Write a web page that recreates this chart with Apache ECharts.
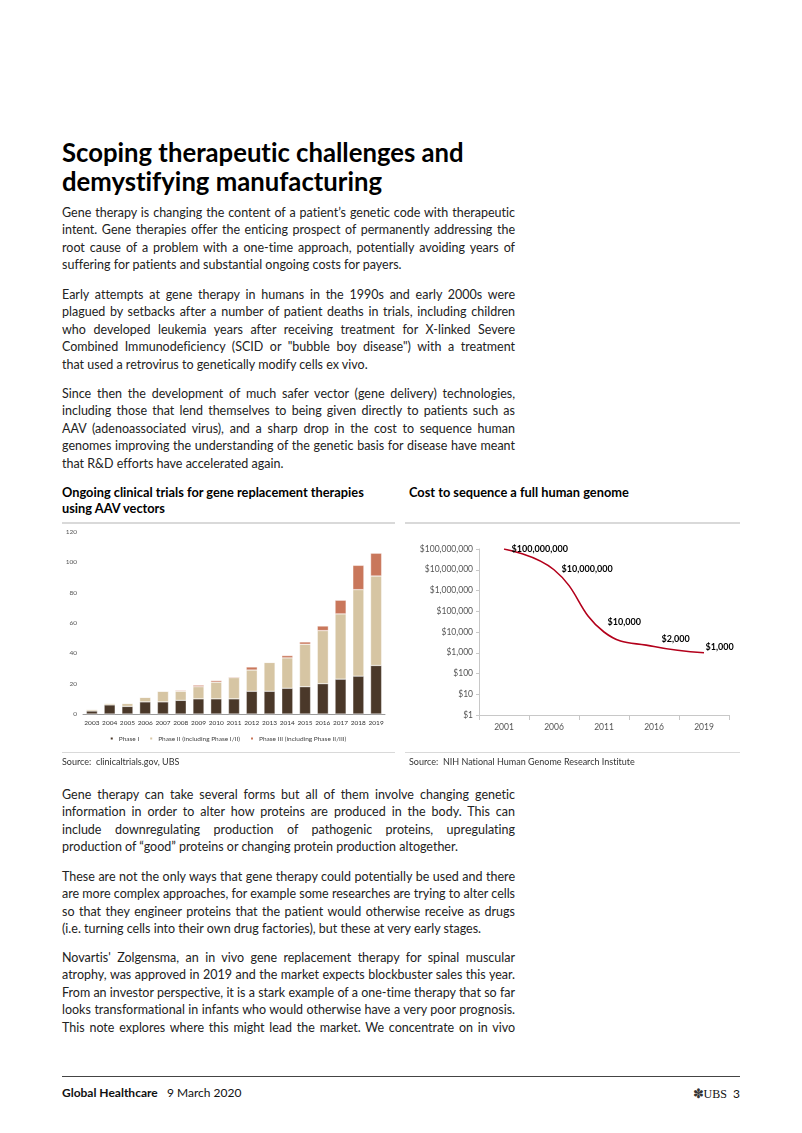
<!DOCTYPE html>
<html>
<head>
<meta charset="utf-8">
<script src="https://cdn.jsdelivr.net/npm/echarts@6/dist/echarts.min.js"></script>
<style>
  html, body { margin:0; padding:0; background:#fff; }
  body { width:802px; height:1133px; position:relative; overflow:hidden; font-family: Lato, "Open Sans", sans-serif; color:#1a1a1a; font-variant-ligatures: none; }
  .title { position:absolute; left:62px; top:138px; font-size:25.7px; line-height:29px; font-weight:700; color:#000; white-space:nowrap; }
  .para { position:absolute; left:62px; width:453px; font-size:12.5px; line-height:17.4px; color:#222; }
  .ln { white-space:nowrap; text-align:justify; text-align-last:justify; width:453px; }
  .ln.last { text-align:left; text-align-last:left; }
  .ctitle { position:absolute; font-size:12.8px; line-height:16px; font-weight:700; color:#000; white-space:nowrap; }
  .rule { position:absolute; background:#d9d9d9; }
  .src { position:absolute; font-size:9px; color:#333; white-space:nowrap; }
  .footer { position:absolute; top:1085px; font-size:12px; color:#111; white-space:nowrap; }
  #bar { position:absolute; left:55px; top:525px; width:345px; height:228px; }
  #line { position:absolute; left:400px; top:530px; width:345px; height:210px; }
</style>
</head>
<body>
<div class="title">Scoping therapeutic challenges and<br>demystifying manufacturing</div>

<div class="para" style="top:204px">
<div class="ln">Gene therapy is changing the content of a patient’s genetic code with therapeutic</div>
<div class="ln">intent. Gene therapies offer the enticing prospect of permanently addressing the</div>
<div class="ln">root cause of a problem with a one-time approach, potentially avoiding years of</div>
<div class="ln last">suffering for patients and substantial ongoing costs for payers.</div>
</div>

<div class="para" style="top:286px">
<div class="ln">Early attempts at gene therapy in humans in the 1990s and early 2000s were</div>
<div class="ln">plagued by setbacks after a number of patient deaths in trials, including children</div>
<div class="ln">who developed leukemia years after receiving treatment for X-linked Severe</div>
<div class="ln">Combined Immunodeficiency (SCID or "bubble boy disease") with a treatment</div>
<div class="ln last">that used a retrovirus to genetically modify cells ex vivo.</div>
</div>

<div class="para" style="top:385px">
<div class="ln">Since then the development of much safer vector (gene delivery) technologies,</div>
<div class="ln">including those that lend themselves to being given directly to patients such as</div>
<div class="ln">AAV (adenoassociated virus), and a sharp drop in the cost to sequence human</div>
<div class="ln">genomes improving the understanding of the genetic basis for disease have meant</div>
<div class="ln last">that R&amp;D efforts have accelerated again.</div>
</div>

<div class="ctitle" style="left:62px; top:484px">Ongoing clinical trials for gene replacement therapies<br>using AAV vectors</div>
<div class="ctitle" style="left:409px; top:484px">Cost to sequence a full human genome</div>
<div class="rule" style="left:62px; top:522px; width:333px; height:2px"></div>
<div class="rule" style="left:405px; top:522px; width:335px; height:2px"></div>

<div id="bar"></div>
<div id="line"></div>

<div class="rule" style="left:62px; top:752px; width:333px; height:1px"></div>
<div class="rule" style="left:405px; top:752px; width:335px; height:1px"></div>
<div class="src" style="left:62px; top:756px">Source:&nbsp; clinicaltrials.gov, UBS</div>
<div class="src" style="left:409px; top:756px">Source:&nbsp; NIH National Human Genome Research Institute</div>

<div class="para" style="top:786px">
<div class="ln">Gene therapy can take several forms but all of them involve changing genetic</div>
<div class="ln">information in order to alter how proteins are produced in the body. This can</div>
<div class="ln">include downregulating production of pathogenic proteins, upregulating</div>
<div class="ln last">production of “good” proteins or changing protein production altogether.</div>
</div>

<div class="para" style="top:868px">
<div class="ln">These are not the only ways that gene therapy could potentially be used and there</div>
<div class="ln">are more complex approaches, for example some researches are trying to alter cells</div>
<div class="ln">so that they engineer proteins that the patient would otherwise receive as drugs</div>
<div class="ln last">(i.e. turning cells into their own drug factories), but these at very early stages.</div>
</div>

<div class="para" style="top:949px">
<div class="ln">Novartis' Zolgensma, an in vivo gene replacement therapy for spinal muscular</div>
<div class="ln">atrophy, was approved in 2019 and the market expects blockbuster sales this year.</div>
<div class="ln">From an investor perspective, it is a stark example of a one-time therapy that so far</div>
<div class="ln">looks transformational in infants who would otherwise have a very poor prognosis.</div>
<div class="ln">This note explores where this might lead the market. We concentrate on in vivo</div>
</div>

<div style="position:absolute; left:62px; top:1076px; width:678px; height:1px; background:#444"></div>
<div class="footer" style="left:62px"><b>Global Healthcare</b>&nbsp;&nbsp; 9 March 2020</div>
<div class="footer" style="right:62px"><span style="font-size:13px; color:#333">✽</span><span style="font-family:'Liberation Serif', serif">UBS</span>&nbsp; 3</div>

<script>
// keep justified lines inside the column if the natural width is too large
(function () {
  var lines = document.querySelectorAll('.ln');
  var probe = document.createElement('span');
  probe.style.cssText = 'position:absolute;visibility:hidden;white-space:nowrap;';
  for (var i = 0; i < lines.length; i++) {
    var el = lines[i];
    probe.textContent = el.textContent;
    el.appendChild(probe);
    var w = probe.getBoundingClientRect().width;
    el.removeChild(probe);
    if (w > 452) {
      var n = el.textContent.length;
      el.style.letterSpacing = ((452 - w) / n).toFixed(3) + 'px';
    }
  }
})();

// ---------- Data: clinical trials ----------
var years = ['2003','2004','2005','2006','2007','2008','2009','2010','2011','2012','2013','2014','2015','2016','2017','2018','2019'];
var phase1 = [2, 6, 5, 8, 8, 9, 10, 10, 10, 15, 15, 17, 18, 20, 23, 25, 32];
var phase2 = [1, 1, 2, 3, 7, 6, 8, 11, 14, 14, 19, 20, 28, 35, 43, 57, 59];
var phase3 = [0, 0, 0, 0, 0, 0.5, 1, 1, 0.5, 2, 0, 1.5, 1.5, 3, 9, 16, 15];
var seriesNames = ['Phase I', 'Phase II (including Phase I/II)', 'Phase III (including Phase II/III)'];
var barTicks = [0, 20, 40, 60, 80, 100, 120];

// ---------- Data: genome cost ----------
var costYears = ['2001','2006','2011','2016','2019'];
var costValues = [100000000, 10000000, 10000, 2000, 1000];
var costLabels = ['$100,000,000', '$10,000,000', '$10,000', '$2,000', '$1,000'];

var FONT = 'Lato, "Open Sans", sans-serif';

var bar = echarts.init(document.getElementById('bar'));
var colors = ['#4a3829', '#d6c5a3', '#c9775b'];
bar.setOption({
  animation: false,
  textStyle: { fontFamily: FONT },
  grid: { left: 28, top: 7, width: 302, height: 182, containLabel: false },
  legend: {
    data: seriesNames, bottom: 6, left: 'center',
    itemWidth: 4, itemHeight: 4, itemGap: 9, icon: 'rect',
    textStyle: { fontSize: 6.5, color: '#444', fontFamily: FONT }
  },
  xAxis: {
    type: 'category', data: years,
    axisLine: { lineStyle: { color: '#9a9a9a', width: 1 } },
    axisTick: { show: false },
    axisLabel: { fontSize: 6.5, color: '#333', margin: 5, interval: 0 }
  },
  yAxis: {
    type: 'value', min: barTicks[0], max: barTicks[barTicks.length - 1], interval: 20,
    axisLine: { show: false }, axisTick: { show: false },
    splitLine: { show: false },
    axisLabel: { fontSize: 6.5, color: '#555', margin: 6 }
  },
  series: [
    { name: seriesNames[0], type: 'bar', stack: 't', data: phase1, barWidth: '62%', itemStyle: { color: colors[0], borderColor: '#fff', borderWidth: 0.4 } },
    { name: seriesNames[1], type: 'bar', stack: 't', data: phase2, barWidth: '62%', itemStyle: { color: colors[1], borderColor: '#fff', borderWidth: 0.4 } },
    { name: seriesNames[2], type: 'bar', stack: 't', data: phase3, barWidth: '62%', itemStyle: { color: colors[2], borderColor: '#fff', borderWidth: 0.4 } }
  ]
});

var line = echarts.init(document.getElementById('line'));
// label anchor relative to each point's (1px) symbol box
var labelPos = [[8, 0.5], [8, -0.5], [4, -9.5], [8, -7], [2, -5.5]];
line.setOption({
  animation: false,
  textStyle: { fontFamily: FONT },
  grid: { left: 79, top: 19, width: 250, height: 166 },
  xAxis: {
    type: 'category', data: costYears, boundaryGap: true,
    axisLine: { lineStyle: { color: '#c8c8c8', width: 1 } },
    axisTick: { show: true, length: 5, lineStyle: { color: '#c8c8c8' } },
    axisLabel: { fontSize: 8.5, color: '#555', margin: 8 }
  },
  yAxis: {
    type: 'log', logBase: 10, min: 1, max: 100000000, interval: 1,
    axisLine: { show: true, lineStyle: { color: '#c8c8c8', width: 1 } },
    axisTick: { show: true, length: 3, lineStyle: { color: '#c8c8c8' } },
    splitLine: { show: false },
    axisLabel: { fontSize: 8.5, color: '#555', margin: 6,
      formatter: function (v) { return '$' + Math.round(v).toLocaleString('en-US'); } }
  },
  series: [{
    type: 'line', smooth: 0.45, symbol: 'circle', symbolSize: 1, showSymbol: true,
    itemStyle: { color: 'rgba(0,0,0,0)' },
    lineStyle: { color: '#b3001b', width: 1.6 },
    labelLayout: { hideOverlap: false },
    data: costValues.map(function (v, i) {
      return { value: v, label: { show: true, position: labelPos[i], align: 'left', verticalAlign: 'middle',
        formatter: costLabels[i], fontSize: 9, fontWeight: 'bold', color: '#000', fontFamily: FONT } };
    })
  }]
});
</script>
</body>
</html>
